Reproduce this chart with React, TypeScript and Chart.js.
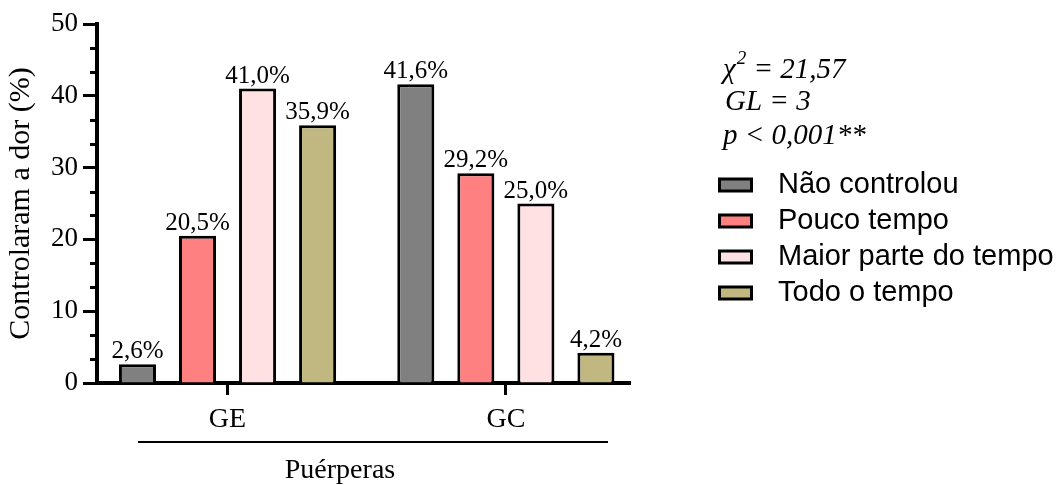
import React, { useEffect, useRef } from 'react';
import { Chart, registerables } from 'chart.js';

Chart.register(...registerables);

// ---- data ----
const groups = ['GE', 'GC'];
const seriesNames = ['Não controlou', 'Pouco tempo', 'Maior parte do tempo', 'Todo o tempo'];
const naoControlou = [2.6, 41.6];
const poucoTempo = [20.5, 29.2];
const maiorParte = [41.0, 25.0];
const todoTempo = [35.9, 4.2];
const seriesValues = [naoControlou, poucoTempo, maiorParte, todoTempo];
const seriesColors = ['#808080', '#FF8080', '#FFE0E3', '#C0B880'];
const yTicks = [0, 10, 20, 30, 40, 50];
const yTitle = 'Controlaram a dor (%)';
const xTitle = 'Puérperas';
const chiSquare = '21,57';
const glText = 'GL = 3';
const pText = 'p < 0,001**';

const serif = "'Liberation Serif', 'Times New Roman', serif";
const sans = "'Liberation Sans', Arial, sans-serif";

const decorPlugin = {
  id: 'decor',
  afterDatasetsDraw(chart: any) {
    const ctx = chart.ctx;
    ctx.save();
    ctx.fillStyle = '#000';
    ctx.font = `25px ${serif}`;
    ctx.textAlign = 'center';
    ctx.textBaseline = 'alphabetic';
    chart.data.datasets.forEach((_ds: any, i: number) => {
      const meta = chart.getDatasetMeta(i);
      meta.data.forEach((bar: any, j: number) => {
        const v = seriesValues[i][j];
        ctx.fillText(v.toFixed(1).replace('.', ',') + '%', bar.x, bar.y - 6);
      });
    });
    ctx.restore();
  },
  afterDraw(chart: any) {
    const ctx = chart.ctx;
    const area = chart.chartArea;
    const y = chart.scales.y;
    ctx.save();
    // minor ticks on y axis
    ctx.strokeStyle = '#000';
    ctx.lineWidth = 3;
    for (let i = 0; i < yTicks.length - 1; i++) {
      for (let k = 1; k <= 2; k++) {
        const v = yTicks[i] + ((yTicks[i + 1] - yTicks[i]) * k) / 3;
        const py = Math.round(y.getPixelForValue(v)) + 0.5;
        ctx.beginPath();
        ctx.moveTo(area.left - 7, py);
        ctx.lineTo(area.left, py);
        ctx.stroke();
      }
    }
    // group bracket line + x title
    ctx.lineWidth = 2;
    ctx.beginPath();
    ctx.moveTo(area.left + 41, 442);
    ctx.lineTo(area.right - 22, 442);
    ctx.stroke();
    ctx.fillStyle = '#000';
    ctx.font = `28px ${serif}`;
    ctx.textAlign = 'center';
    ctx.textBaseline = 'alphabetic';
    ctx.fillText(xTitle, area.left + 243, 478);

    // statistics text
    const sx = area.right + 93;
    ctx.textAlign = 'left';
    ctx.font = `italic 29px ${serif}`;
    ctx.fillText('χ', sx, 78);
    const w1 = ctx.measureText('χ').width;
    ctx.font = `italic 19px ${serif}`;
    ctx.fillText('2', sx + w1 + 1, 64);
    const w2 = ctx.measureText('2').width;
    ctx.font = `italic 29px ${serif}`;
    ctx.fillText(' = ' + chiSquare, sx + w1 + w2 + 1, 78);
    ctx.fillText(glText, sx + 2, 110);
    ctx.fillText(pText, sx, 144);

    // legend
    const bx = area.right + 89.5;
    seriesNames.forEach((name, i) => {
      const cy = 185 + i * 36;
      ctx.fillStyle = seriesColors[i];
      ctx.fillRect(bx, cy - 6, 32, 12);
      ctx.strokeStyle = '#000';
      ctx.lineWidth = 3;
      ctx.strokeRect(bx, cy - 6, 32, 12);
      ctx.fillStyle = '#000';
      ctx.font = `29px ${sans}`;
      ctx.textBaseline = 'middle';
      ctx.fillText(name, area.right + 148, cy);
    });
    ctx.restore();
  },
};

export default function App() {
  const ref = useRef<HTMLCanvasElement | null>(null);

  useEffect(() => {
    if (!ref.current) return;
    const chart = new Chart(ref.current, {
      type: 'bar',
      data: {
        datasets: seriesValues.map((vals, i) => ({
          label: seriesNames[i],
          data: vals.map((v, j) => ({ x: j, y: v })),
          backgroundColor: seriesColors[i],
          borderColor: '#000',
          borderWidth: 3,
          borderSkipped: 'start',
          categoryPercentage: 0.863,
          barPercentage: 0.617,
        })),
      },
      options: {
        responsive: false,
        devicePixelRatio: 1,
        animation: false,
        layout: { padding: { top: 24, right: 429, left: 0, bottom: 0 } },
        plugins: { legend: { display: false }, tooltip: { enabled: false } },
        scales: {
          x: {
            type: 'linear',
            min: -0.469,
            max: 1.446,
            offset: false,
            afterBuildTicks: (s: any) => {
              s.ticks = groups.map((_g, i) => ({ value: i }));
            },
            afterFit: (s: any) => {
              s.height = 102;
            },
            ticks: {
              autoSkip: false,
              maxRotation: 0,
              padding: 8,
              color: '#000',
              font: { family: serif, size: 28 },
              callback: (v: any) => groups[v] ?? '',
            },
            grid: {
              offset: false,
              drawOnChartArea: false,
              tickLength: 12,
              tickWidth: 3,
              tickColor: '#000',
            },
            border: { display: true, width: 4, color: '#000' },
            z: 1,
          },
          y: {
            min: 0,
            max: 50,
            afterBuildTicks: (s: any) => {
              s.ticks = yTicks.map((v) => ({ value: v }));
            },
            afterFit: (s: any) => {
              s.width = 97;
            },
            ticks: {
              padding: 5,
              color: '#000',
              font: { family: serif, size: 27 },
            },
            grid: {
              drawOnChartArea: false,
              tickLength: 14,
              tickWidth: 3,
              tickColor: '#000',
            },
            border: { display: true, width: 4, color: '#000' },
            title: {
              display: true,
              text: yTitle,
              color: '#000',
              font: { family: serif, size: 30 },
              padding: { top: 3, bottom: 0 },
            },
            z: 1,
          },
        },
      },
      plugins: [decorPlugin],
    } as any);
    return () => chart.destroy();
  }, []);

  return (
    <div style={{ position: 'fixed', left: 0, top: 0, width: 1059, height: 485, background: '#fff' }}>
      <canvas
        ref={ref}
        width={1059}
        height={485}
        style={{ display: 'block', width: '1059px', height: '485px' }}
      />
    </div>
  );
}
